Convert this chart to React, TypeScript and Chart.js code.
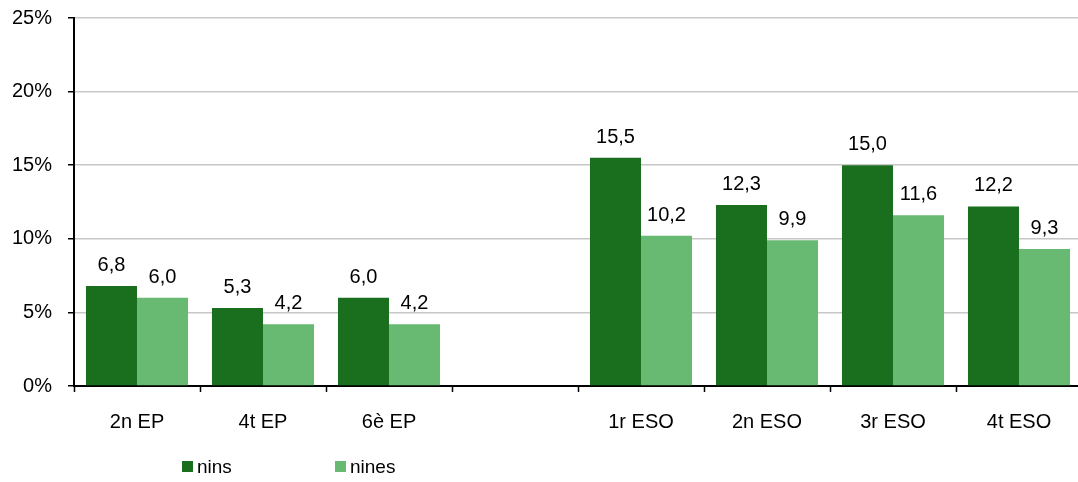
import React, { useEffect, useRef } from "react";
import { Chart, registerables } from "chart.js";

Chart.register(...registerables);

const categories = ["2n EP", "4t EP", "6è EP", "", "1r ESO", "2n ESO", "3r ESO", "4t ESO"];
const ninsValues = [6.8, 5.3, 6.0, null, 15.5, 12.3, 15.0, 12.2];
const ninesValues = [6.0, 4.2, 4.2, null, 10.2, 9.9, 11.6, 9.3];
const seriesLabels = ["nins", "nines"];
const seriesColors = ["#1a6f1f", "#68b972"];
const yTicks = [0, 5, 10, 15, 20, 25];

const FONT = "'Liberation Sans', Arial, sans-serif";

const valueLabels = {
  id: "valueLabels",
  afterDatasetsDraw(chart: any) {
    const ctx = chart.ctx;
    ctx.save();
    ctx.font = `20px ${FONT}`;
    ctx.fillStyle = "#000";
    ctx.textAlign = "center";
    ctx.textBaseline = "alphabetic";
    chart.data.datasets.forEach((ds: any, i: number) => {
      const meta = chart.getDatasetMeta(i);
      meta.data.forEach((bar: any, j: number) => {
        const v = ds.data[j];
        if (v === null || v === undefined) return;
        ctx.fillText(v.toFixed(1).replace(".", ","), bar.x, bar.y - 15);
      });
    });
    ctx.restore();
  },
};

const customLegend = {
  id: "customLegend",
  afterDraw(chart: any) {
    const ctx = chart.ctx;
    const xs = [182, 335];
    ctx.save();
    ctx.font = `19px ${FONT}`;
    ctx.textBaseline = "middle";
    ctx.textAlign = "left";
    chart.data.datasets.forEach((ds: any, i: number) => {
      const x = xs[i];
      ctx.fillStyle = ds.backgroundColor;
      ctx.fillRect(x, 461, 11, 11);
      ctx.fillStyle = "#000";
      ctx.fillText(ds.label, x + 15, 468);
    });
    ctx.restore();
  },
};

export default function App() {
  const ref = useRef<HTMLCanvasElement>(null);
  useEffect(() => {
    document.body.style.margin = "0";
    const chart = new Chart(ref.current!, {
      type: "bar",
      data: {
        labels: categories,
        datasets: [
          { label: seriesLabels[0], data: ninsValues, backgroundColor: seriesColors[0] },
          { label: seriesLabels[1], data: ninesValues, backgroundColor: seriesColors[1] },
        ],
      },
      options: {
        animation: false,
        responsive: false,
        devicePixelRatio: 1,
        layout: { padding: { top: 18, right: 0, bottom: 0, left: 0 } },
        datasets: { bar: { categoryPercentage: 0.81, barPercentage: 1 } },
        plugins: { legend: { display: false }, tooltip: { enabled: false } },
        scales: {
          x: {
            offset: true,
            afterFit: (s: any) => { s.height = 96; s.paddingLeft = 0; s.paddingRight = 0; },
            grid: {
              offset: true,
              drawOnChartArea: false,
              drawTicks: true,
              tickLength: 6,
              color: "#000",
              tickWidth: 1.5,
            },
            border: { color: "#000", width: 2 },
            ticks: { font: { family: FONT, size: 20 }, color: "#000", padding: 18, maxRotation: 0 },
          },
          y: {
            min: 0,
            max: 25,
            afterFit: (s: any) => { s.width = 74; s.paddingTop = 0; s.paddingBottom = 0; },
            afterBuildTicks: (s: any) => { s.ticks = yTicks.map((v) => ({ value: v })); },
            grid: { color: "#c8c8c8", lineWidth: 1.5, tickLength: 6, tickColor: "#000" },
            border: { color: "#000", width: 2 },
            ticks: {
              font: { family: FONT, size: 20 },
              color: "#000",
              padding: 16,
              callback: (v: any) => v + "%",
            },
          },
        },
      },
      plugins: [valueLabels, customLegend],
    });
    return () => chart.destroy();
  }, []);
  return (
    <div style={{ width: 1078, height: 482, overflow: "hidden", position: "relative" }}>
      <canvas ref={ref} width={1082} height={482} style={{ display: "block", width: 1082, height: 482 }} />
    </div>
  );
}
